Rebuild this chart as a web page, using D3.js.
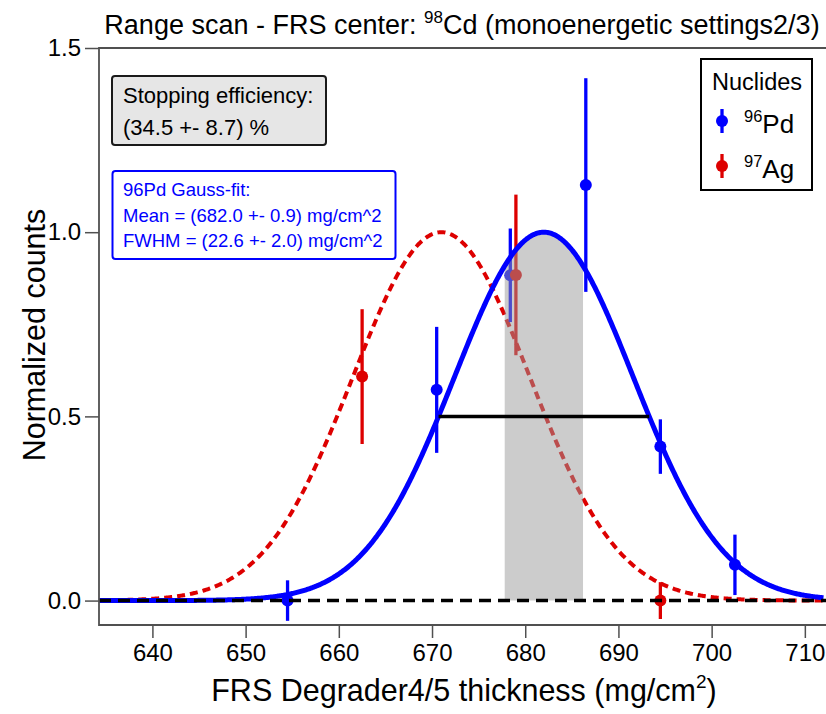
<!DOCTYPE html>
<html>
<head>
<meta charset="utf-8">
<script src="https://cdn.jsdelivr.net/npm/d3@7"></script>
<style>
  html, body { margin: 0; padding: 0; background: #fff; }
  svg { display: block; }
  text { font-family: "Liberation Sans", Arial, sans-serif; }
</style>
</head>
<body>
<svg id="chart" width="826" height="714"></svg>
<script>
// ---------------- data ----------------
const pdX   = [654.5, 670.5, 678.4, 686.5, 694.5, 702.5];
const pdY   = [0.000, 0.572, 0.883, 1.128, 0.418, 0.097];
const pdErr = [0.055, 0.171, 0.127, 0.290, 0.074, 0.082];

const agX   = [662.5, 679.0, 694.5];
const agY   = [0.608, 0.884, 0.000];
const agErr = [0.183, 0.218, 0.050];

// fit parameters
const pdMean = 682.0, pdFWHM = 22.6, pdAmp = 1.0;
const agMean = 671.0, agSigma = 9.5, agAmp = 1.0;
const bandLo = 677.8, bandHi = 686.2;

const xTicks = [640, 650, 660, 670, 680, 690, 700, 710];
const yTicks = [0.0, 0.5, 1.0, 1.5];

const titleParts = ["Range scan - FRS center: ", "98", "Cd (monoenergetic settings2/3)"];
const xLabelParts = ["FRS Degrader4/5 thickness (mg/cm", "2", ")"];
const yLabel = "Normalized counts";
const effLines = ["Stopping efficiency:", "(34.5 +- 8.7) %"];
const fitLines = ["96Pd Gauss-fit:", "Mean = (682.0 +- 0.9) mg/cm^2", "FWHM = (22.6 +- 2.0) mg/cm^2"];
const legendTitle = "Nuclides";
const legendItems = [
  { mass: "96", el: "Pd", color: "#0000ff" },
  { mass: "97", el: "Ag", color: "#dd0000" }
];

// ---------------- layout ----------------
const svg = d3.select("#chart");
const L = 99, R = 826, T = 48, B = 625;
const x = d3.scaleLinear().domain([634.27, 712.27]).range([L, R]);
const y = d3.scaleLinear().domain([-0.0663, 1.5]).range([B, T]);

const BLUE = "#0000ff", RED = "#dd0000", FRAME = "#505050";

const pdSigma = pdFWHM / (2 * Math.sqrt(2 * Math.log(2)));
const gauss = (v, m, s, a) => a * Math.exp(-((v - m) ** 2) / (2 * s * s));

const xs = d3.range(634.3, 712.0, 0.1);

const plot = svg.append("g");
plot.append("clipPath").attr("id", "clip").append("rect")
  .attr("x", L).attr("y", T).attr("width", R - L).attr("height", B - T);
const pg = plot.append("g").attr("clip-path", "url(#clip)");

// red dashed fit
pg.append("path")
  .datum(xs)
  .attr("fill", "none").attr("stroke", RED).attr("stroke-width", 4)
  .attr("stroke-dasharray", "8,5")
  .attr("d", d3.line().x(d => x(d)).y(d => y(gauss(d, agMean, agSigma, agAmp))));

// error bars & points
function drawSeries(xv, yv, ev, color) {
  const g = pg.append("g");
  g.selectAll("line").data(xv).join("line")
    .attr("x1", d => x(d)).attr("x2", d => x(d))
    .attr("y1", (d, i) => y(yv[i] - ev[i])).attr("y2", (d, i) => y(yv[i] + ev[i]))
    .attr("stroke", color).attr("stroke-width", 3.3);
  g.selectAll("circle").data(xv).join("circle")
    .attr("cx", d => x(d)).attr("cy", (d, i) => y(yv[i])).attr("r", 6)
    .attr("fill", color);
}
drawSeries(pdX, pdY, pdErr, BLUE);
drawSeries(agX, agY, agErr, RED);

// grey band under blue fit
const bx = d3.range(bandLo, bandHi + 0.001, 0.05);
pg.append("path")
  .datum(bx)
  .attr("fill", "#999999").attr("fill-opacity", 0.5)
  .attr("d", d3.area().x(d => x(d)).y0(y(0)).y1(d => y(gauss(d, pdMean, pdSigma, pdAmp))));

// blue fit
pg.append("path")
  .datum(xs)
  .attr("fill", "none").attr("stroke", BLUE).attr("stroke-width", 5)
  .attr("d", d3.line().x(d => x(d)).y(d => y(gauss(d, pdMean, pdSigma, pdAmp))));

// zero dashed line
pg.append("line")
  .attr("x1", L).attr("x2", R).attr("y1", y(0)).attr("y2", y(0))
  .attr("stroke", "#000").attr("stroke-width", 3.5).attr("stroke-dasharray", "12,7");

// FWHM line
pg.append("line")
  .attr("x1", x(pdMean - pdFWHM / 2)).attr("x2", x(pdMean + pdFWHM / 2))
  .attr("y1", y(pdAmp / 2)).attr("y2", y(pdAmp / 2))
  .attr("stroke", "#000").attr("stroke-width", 3.5);

// ---------------- axes ----------------
const xAxis = d3.axisBottom(x).tickValues(xTicks).tickSize(13).tickPadding(6).tickFormat(d3.format("d"));
const gx = svg.append("g").attr("transform", `translate(0,${B})`).call(xAxis);
gx.select(".domain").remove();
gx.selectAll(".tick line").attr("stroke", FRAME).attr("stroke-width", 1.5);
gx.selectAll(".tick text").attr("font-size", 24).attr("fill", "#000")
  .attr("font-family", "Liberation Sans, Arial, sans-serif");

const yAxis = d3.axisLeft(y).tickValues(yTicks).tickSize(14).tickPadding(4).tickFormat(d3.format(".1f"));
const gy = svg.append("g").attr("transform", `translate(${L},0)`).call(yAxis);
gy.select(".domain").remove();
gy.selectAll(".tick line").attr("stroke", FRAME).attr("stroke-width", 1.5);
gy.selectAll(".tick text").attr("font-size", 24).attr("fill", "#000")
  .attr("font-family", "Liberation Sans, Arial, sans-serif");

// frame (left, bottom, top)
svg.append("path")
  .attr("d", `M${R + 2},${T} H${L} V${B} H${R + 2}`)
  .attr("fill", "none").attr("stroke", FRAME).attr("stroke-width", 1.8);

// ---------------- title & labels ----------------
const title = svg.append("text").attr("x", 462).attr("y", 34)
  .attr("text-anchor", "middle").attr("font-size", 27).attr("fill", "#000");
title.append("tspan").text(titleParts[0]);
title.append("tspan").attr("dy", -11).attr("font-size", 17).text(titleParts[1]);
title.append("tspan").attr("dy", 11).text(titleParts[2]);

const xl = svg.append("text").attr("x", 464).attr("y", 701)
  .attr("text-anchor", "middle").attr("font-size", 30.5).attr("fill", "#000");
xl.append("tspan").text(xLabelParts[0]);
xl.append("tspan").attr("dy", -13).attr("font-size", 19).text(xLabelParts[1]);
xl.append("tspan").attr("dy", 13).text(xLabelParts[2]);

svg.append("text")
  .attr("transform", `translate(45,335) rotate(-90)`)
  .attr("text-anchor", "middle").attr("font-size", 30.5).attr("fill", "#000")
  .text(yLabel);

// ---------------- annotation boxes ----------------
svg.append("rect").attr("x", 112).attr("y", 76).attr("width", 214).attr("height", 69)
  .attr("rx", 3).attr("fill", "#e6e6e6").attr("stroke", "#1a1a1a").attr("stroke-width", 2);
svg.selectAll(".eff").data(effLines).join("text").attr("class", "eff")
  .attr("x", 123).attr("y", (d, i) => 103 + i * 32)
  .attr("font-size", 22).attr("fill", "#000").text(d => d);

svg.append("rect").attr("x", 112.5).attr("y", 171).attr("width", 283).attr("height", 88)
  .attr("rx", 3).attr("fill", "#fff").attr("stroke", BLUE).attr("stroke-width", 2);
svg.selectAll(".fit").data(fitLines).join("text").attr("class", "fit")
  .attr("x", 123).attr("y", (d, i) => 196 + i * 25.5)
  .attr("font-size", 18.5).attr("fill", BLUE).text(d => d);

// ---------------- legend ----------------
svg.append("rect").attr("x", 701).attr("y", 59).attr("width", 111).attr("height", 131)
  .attr("fill", "#fff").attr("stroke", "#000").attr("stroke-width", 2);
svg.append("text").attr("x", 757).attr("y", 90).attr("text-anchor", "middle")
  .attr("font-size", 23.5).attr("fill", "#000").text(legendTitle);

const lg = svg.selectAll(".leg").data(legendItems).join("g").attr("class", "leg")
  .attr("transform", (d, i) => `translate(0,${121 + i * 45})`);
lg.append("line").attr("x1", 722).attr("x2", 722).attr("y1", -12).attr("y2", 12)
  .attr("stroke", d => d.color).attr("stroke-width", 3.3);
lg.append("circle").attr("cx", 722).attr("cy", 0).attr("r", 6).attr("fill", d => d.color);
const lt = lg.append("text").attr("x", 744).attr("y", 12).attr("font-size", 26).attr("fill", "#000");
lt.append("tspan").attr("dy", -11).attr("font-size", 16.5).text(d => d.mass);
lt.append("tspan").attr("dy", 11).text(d => d.el);
</script>
</body>
</html>
